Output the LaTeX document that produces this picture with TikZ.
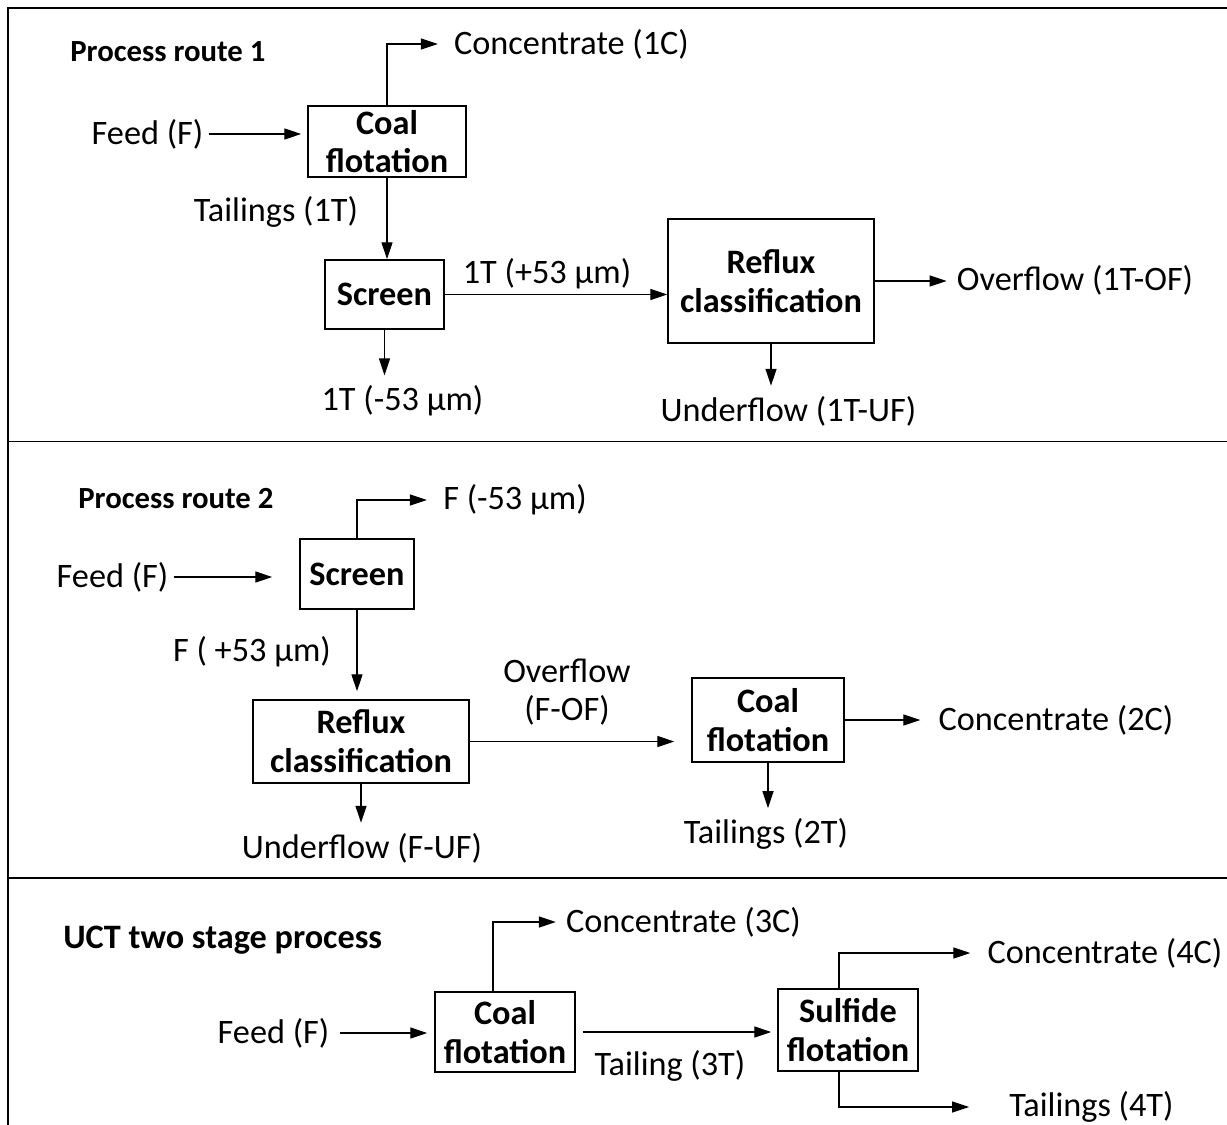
\documentclass[tikz,border=0pt]{standalone}
\usepackage{fontspec}
\setmainfont{Carlito}
\usetikzlibrary{arrows.meta}

\begin{document}
\begin{tikzpicture}[x=0.02cm, y=-0.02cm,
  every node/.style={font=\fontsize{19.5}{22}\selectfont},
  unit/.style={draw, line width=0.85pt, align=center, inner sep=0pt, font=\fontsize{19.5}{22}\selectfont\bfseries},
  stream/.style={inner sep=0.2cm, align=center},
  title/.style={anchor=west, inner sep=0pt, font=\fontsize{17.5}{21}\selectfont\bfseries},
  flow/.style={-{Triangle[length=0.34cm,width=0.22cm]}, line width=0.75pt}]
  \useasboundingbox (0,0) rectangle (1227,1125);
  \draw[line width=1.1pt] (1227,8) -- (8,8) -- (8,1125);
  \draw[line width=1.1pt] (8,441.5) -- (1227,441.5) (8,878) -- (1227,878);

  % route 1
  \node[title] (t1) at (70,52) {Process route 1};
  \node[unit, minimum width=3.16cm, minimum height=1.42cm] (coal1) at (387,141.5) {Coal\\flotation};
  \node[unit, minimum width=2.38cm, minimum height=1.38cm] (screen1) at (384.5,294.5) {Screen};
  \node[unit, minimum width=4.12cm, minimum height=2.48cm] (reflux1) at (771,281) {Reflux\\classification};
  \node[stream] (feed1) at (147.5,134) {Feed (F)};
  \node[stream] (conc1) at (571.5,44) {Concentrate (1C)};
  \node[stream] (tail1) at (276,212) {Tailings (1T)};
  \node[stream] (plus1) at (547,274) {1T (+53 µm)};
  \node[stream] (minus1) at (402.5,401) {1T (-53 µm)};
  \node[stream] (over1) at (1075,280) {Overflow (1T-OF)};
  \node[stream] (under1) at (788.5,411) {Underflow (1T-UF)};
  \draw[flow, shorten <=-0.1cm, shorten >=0.12cm] (feed1.east) -- (feed1.east -| coal1.west);
  \draw[flow, shorten >=0.12cm] (coal1.north) |- (conc1.west);
  \draw[flow] (coal1.south) -- (coal1.south |- screen1.north);
  \draw[flow] (screen1.east) -- (screen1.east -| reflux1.west);
  \draw[flow] (screen1.south) -- (screen1.south |- minus1.north);
  \draw[flow] (reflux1.east) -- (reflux1.east -| over1.west);
  \draw[flow] (reflux1.south) -- (reflux1.south |- under1.north);

  % route 2
  \node[title] (t2) at (78,499) {Process route 2};
  \node[unit, minimum width=2.28cm, minimum height=1.40cm] (screen2) at (357,574) {Screen};
  \node[unit, minimum width=4.32cm, minimum height=1.66cm] (reflux2) at (361,741.5) {Reflux\\classification};
  \node[unit, minimum width=3.04cm, minimum height=1.68cm] (coal2) at (768,720) {Coal\\flotation};
  \node[stream] (feed2) at (112.5,577) {Feed (F)};
  \node[stream] (fminus2) at (515,500) {F (-53 µm)};
  \node[stream] (fplus2) at (252,652) {F ( +53 µm)};
  \node[stream] (ovf2) at (567,692) {Overflow\\(F-OF)};
  \node[stream] (underF2) at (362,848) {Underflow (F-UF)};
  \node[stream] (conc2) at (1056,720) {Concentrate (2C)};
  \node[stream] (tail2) at (766,834) {Tailings (2T)};
  \draw[flow, shorten <=-0.1cm, shorten >=0.54cm] (feed2.east) -- (feed2.east -| screen2.west);
  \draw[flow, shorten >=0.12cm] (screen2.north) |- (fminus2.west);
  \draw[flow, shorten >=0.16cm] (screen2.south) -- (screen2.south |- reflux2.north);
  \draw[flow] (reflux2.south) -- (reflux2.south |- underF2.north);
  \draw[flow, shorten >=0.34cm] (reflux2.east) -- (reflux2.east -| coal2.west);
  \draw[flow, shorten >=0.16cm] (coal2.east) -- (coal2.east -| conc2.west);
  \draw[flow] (coal2.south) -- (coal2.south |- tail2.north);

  % two stage process
  \node[title, font=\fontsize{19.5}{22}\selectfont\bfseries] (t3) at (63,940) {UCT two stage process};
  \node[unit, minimum width=2.80cm, minimum height=1.60cm] (coal3) at (505,1032) {Coal\\flotation};
  \node[unit, minimum width=2.80cm, minimum height=1.64cm] (sulf3) at (848,1030) {Sulfide\\flotation};
  \node[stream] (feed3) at (273.5,1033) {Feed (F)};
  \node[stream] (conc3) at (683.5,922) {Concentrate (3C)};
  \node[stream] (tail3) at (670,1066) {Tailing (3T)};
  \node[stream] (conc4) at (1105,953) {Concentrate (4C)};
  \node[stream] (tail4) at (1091.5,1107) {Tailings (4T)};
  \draw[flow, shorten >=0.14cm] (feed3.east) -- (feed3.east -| coal3.west);
  \draw[flow] ([xshift=-0.24cm]coal3.north) |- (conc3.west);
  \draw[flow, shorten <=0.14cm, shorten >=0.12cm] (coal3.east) -- (coal3.east -| sulf3.west);
  \draw[flow, shorten >=0.14cm] ([xshift=-0.18cm]sulf3.north) |- (conc4.west);
  \draw[flow, shorten >=0.6cm] ([xshift=-0.18cm]sulf3.south) |- (tail4.west);
\end{tikzpicture}
\end{document}
